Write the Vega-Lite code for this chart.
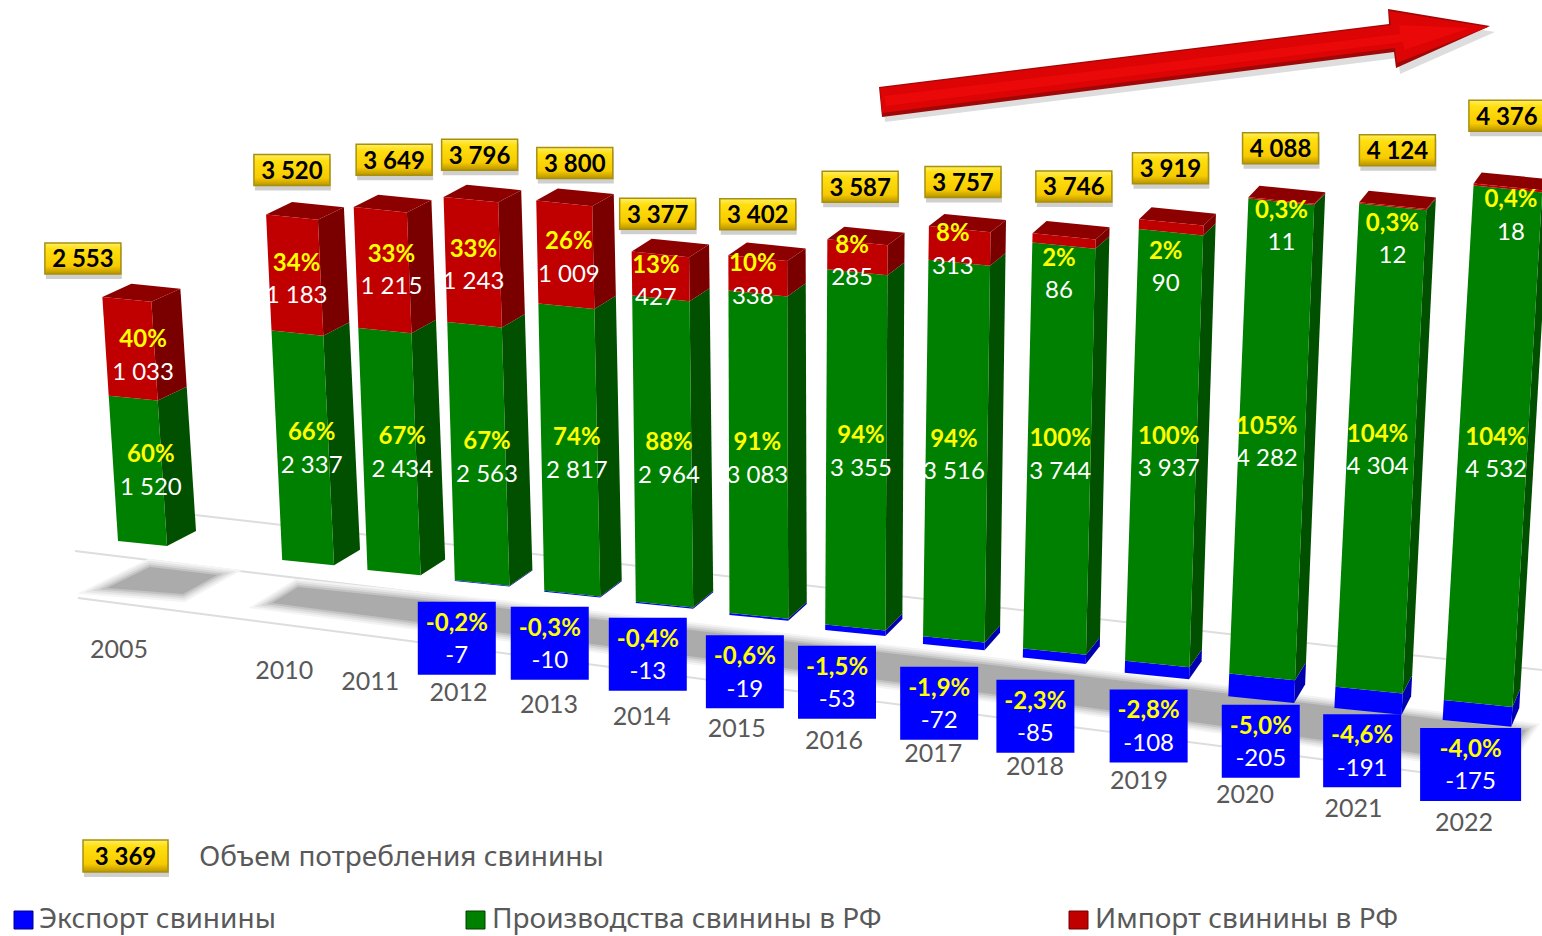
{"$schema":"https://vega.github.io/schema/vega-lite/v6.json","width":1542,"height":936,"padding":0,"autosize":"none","background":"white","view":{"stroke":null},"config":{"text":{"font":"Lato"}},
"datasets":{"bars":[
{"year":2005,"series":"Производство","value":1520,"share":"60%"},{"year":2005,"series":"Импорт","value":1033,"share":"40%"},
{"year":2010,"series":"Производство","value":2337,"share":"66%"},{"year":2010,"series":"Импорт","value":1183,"share":"34%"},
{"year":2011,"series":"Производство","value":2434,"share":"67%"},{"year":2011,"series":"Импорт","value":1215,"share":"33%"},
{"year":2012,"series":"Экспорт","value":-7,"share":"-0,2%"},{"year":2012,"series":"Производство","value":2563,"share":"67%"},{"year":2012,"series":"Импорт","value":1243,"share":"33%"},
{"year":2013,"series":"Экспорт","value":-10,"share":"-0,3%"},{"year":2013,"series":"Производство","value":2817,"share":"74%"},{"year":2013,"series":"Импорт","value":1009,"share":"26%"},
{"year":2014,"series":"Экспорт","value":-13,"share":"-0,4%"},{"year":2014,"series":"Производство","value":2964,"share":"88%"},{"year":2014,"series":"Импорт","value":427,"share":"13%"},
{"year":2015,"series":"Экспорт","value":-19,"share":"-0,6%"},{"year":2015,"series":"Производство","value":3083,"share":"91%"},{"year":2015,"series":"Импорт","value":338,"share":"10%"},
{"year":2016,"series":"Экспорт","value":-53,"share":"-1,5%"},{"year":2016,"series":"Производство","value":3355,"share":"94%"},{"year":2016,"series":"Импорт","value":285,"share":"8%"},
{"year":2017,"series":"Экспорт","value":-72,"share":"-1,9%"},{"year":2017,"series":"Производство","value":3516,"share":"94%"},{"year":2017,"series":"Импорт","value":313,"share":"8%"},
{"year":2018,"series":"Экспорт","value":-85,"share":"-2,3%"},{"year":2018,"series":"Производство","value":3744,"share":"100%"},{"year":2018,"series":"Импорт","value":86,"share":"2%"},
{"year":2019,"series":"Экспорт","value":-108,"share":"-2,8%"},{"year":2019,"series":"Производство","value":3937,"share":"100%"},{"year":2019,"series":"Импорт","value":90,"share":"2%"},
{"year":2020,"series":"Экспорт","value":-205,"share":"-5,0%"},{"year":2020,"series":"Производство","value":4282,"share":"105%"},{"year":2020,"series":"Импорт","value":11,"share":"0,3%"},
{"year":2021,"series":"Экспорт","value":-191,"share":"-4,6%"},{"year":2021,"series":"Производство","value":4304,"share":"104%"},{"year":2021,"series":"Импорт","value":12,"share":"0,3%"},
{"year":2022,"series":"Экспорт","value":-175,"share":"-4,0%"},{"year":2022,"series":"Производство","value":4532,"share":"104%"},{"year":2022,"series":"Импорт","value":18,"share":"0,4%"}],
"consumption":[{"year":2005,"value":2553},{"year":2010,"value":3520},{"year":2011,"value":3649},{"year":2012,"value":3796},{"year":2013,"value":3800},{"year":2014,"value":3377},{"year":2015,"value":3402},{"year":2016,"value":3587},{"year":2017,"value":3757},{"year":2018,"value":3746},{"year":2019,"value":3919},{"year":2020,"value":4088},{"year":2021,"value":4124},{"year":2022,"value":4376}]},
"layer":[
{"data":{"values":[{"k":0},{"k":1},{"k":2}]},"transform":[
{"calculate":"[195,75,78][datum.k]","as":"x1"},{"calculate":"[1542,1530,1520][datum.k]","as":"x2"},{"calculate":"[515,551,598][datum.k]","as":"y1"},{"calculate":"[670,727,785][datum.k]","as":"y2"}],
"mark":{"type":"rule","color":"#DDDDDD","strokeWidth":2},
"encoding":{"x":{"field":"x1","type":"quantitative","scale":{"domain":[0,1542],"range":[0,1542]},"axis":null},"y":{"field":"y1","type":"quantitative","scale":{"domain":[0,936],"range":[0,936]},"axis":null},"x2":{"field":"x2"},"y2":{"field":"y2"}}},
{"data":{"values":[{"k":0},{"k":1}]},"transform":[
{"calculate":"datum.k==0?[[107,588],[150,567],[217,575],[183,594],[107,588]]:[[298,587],[500,608],[1000,666],[1526,730],[1502,765],[1000,695],[433,624],[272,603],[298,587]]","as":"ring"},
{"calculate":"{type:'Feature',properties:{},geometry:{type:'Polygon',coordinates:[datum.ring]}}","as":"geo"}],
"layer":[
{"mark":{"type":"geoshape","fill":"#F4F4F4","stroke":"#F4F4F4","strokeWidth":16},"projection":{"type":"identity","scale":1,"translate":[0,0]},"encoding":{"shape":{"field":"geo","type":"geojson"}}},
{"mark":{"type":"geoshape","fill":"#E6E6E6","stroke":"#E6E6E6","strokeWidth":12},"projection":{"type":"identity","scale":1,"translate":[0,0]},"encoding":{"shape":{"field":"geo","type":"geojson"}}},
{"mark":{"type":"geoshape","fill":"#D6D6D6","stroke":"#D6D6D6","strokeWidth":8},"projection":{"type":"identity","scale":1,"translate":[0,0]},"encoding":{"shape":{"field":"geo","type":"geojson"}}},
{"mark":{"type":"geoshape","fill":"#C2C2C2","stroke":"#C2C2C2","strokeWidth":4},"projection":{"type":"identity","scale":1,"translate":[0,0]},"encoding":{"shape":{"field":"geo","type":"geojson"}}},
{"mark":{"type":"geoshape","fill":"#ABABAB","stroke":null},"projection":{"type":"identity","scale":1,"translate":[0,0]},"encoding":{"shape":{"field":"geo","type":"geojson"}}}]},
{"data":{"name":"bars"},"transform":[
{"calculate":"datum.year<2010?0:datum.year-2008","as":"i"},
{"calculate":"118+80*datum.i+1.05*datum.i*datum.i","as":"bx"},
{"calculate":"541+9.19*datum.i+0.155*datum.i*datum.i","as":"by"},
{"calculate":"0.0956+0.00128*datum.i","as":"s"},
{"calculate":"-0.064+0.0087*datum.i","as":"L"},
{"calculate":"49+1.4*datum.i","as":"W"},
{"stack":"value","groupby":["year"],"sort":[{"field":"series","order":"descending"}],"as":["v0","v1"]},
{"calculate":"min(datum.v0,datum.v1)","as":"lo"},{"calculate":"max(datum.v0,datum.v1)","as":"hi"},
{"calculate":"datum.bx+datum.L*datum.s*datum.lo","as":"xlo"},{"calculate":"datum.by-datum.s*datum.lo","as":"ylo"},
{"calculate":"datum.bx+datum.L*datum.s*datum.hi","as":"xhi"},{"calculate":"datum.by-datum.s*datum.hi","as":"yhi"},
{"calculate":"0.1*datum.W","as":"t"},{"calculate":"29-1.5*datum.i","as":"dx"},
{"calculate":"-(15+0.25*datum.i)+(3+0.25*datum.i)*datum.lo/4000","as":"dyl"},
{"calculate":"-(15+0.25*datum.i)+(3+0.25*datum.i)*datum.hi/4000","as":"dyh"},
{"calculate":"['side','top','front']","as":"face"},{"flatten":["face"]},
{"filter":"datum.face!='top'||datum.series=='Импорт'"},
{"calculate":"datum.face=='top'?[datum.xhi,datum.yhi]:datum.face=='side'?[datum.xlo+datum.W,datum.ylo+datum.t]:[datum.xlo,datum.ylo]","as":"a"},
{"calculate":"datum.face=='top'?[datum.xhi+datum.W,datum.yhi+datum.t]:datum.face=='side'?[datum.xlo+datum.W+datum.dx,datum.ylo+datum.t+datum.dyl]:[datum.xlo+datum.W,datum.ylo+datum.t]","as":"b"},
{"calculate":"datum.face=='front'?[datum.xhi+datum.W,datum.yhi+datum.t]:[datum.xhi+datum.W+datum.dx,datum.yhi+datum.t+datum.dyh]","as":"c"},
{"calculate":"datum.face=='top'?[datum.xhi+datum.dx,datum.yhi+datum.dyh]:datum.face=='side'?[datum.xhi+datum.W,datum.yhi+datum.t]:[datum.xhi,datum.yhi]","as":"d"},
{"calculate":"{type:'Feature',properties:{},geometry:{type:'Polygon',coordinates:[[datum.a,datum.b,datum.c,datum.d,datum.a]]}}","as":"geo"},
{"calculate":"datum.series+'-'+datum.face","as":"key"}],
"mark":{"type":"geoshape","stroke":null},"projection":{"type":"identity","scale":1,"translate":[0,0]},
"encoding":{"shape":{"field":"geo","type":"geojson"},"color":{"field":"key","type":"nominal","legend":null,"scale":{"domain":["Импорт-front","Импорт-side","Импорт-top","Производство-front","Производство-side","Экспорт-front","Экспорт-side"],"range":["#C00000","#7A0000","#8C0000","#008000","#005000","#0000FF","#0000B0"]}}}},
{"data":{"name":"bars"},"transform":[
{"calculate":"datum.year<2010?0:datum.year-2008","as":"i"},
{"calculate":"118+80*datum.i+1.03*datum.i*datum.i","as":"bx"},
{"calculate":"541+9.19*datum.i+0.155*datum.i*datum.i","as":"by"},
{"calculate":"0.0956+0.00128*datum.i","as":"s"},
{"calculate":"-0.064+0.0087*datum.i","as":"L"},
{"calculate":"49+1.4*datum.i","as":"W"},
{"stack":"value","groupby":["year"],"sort":[{"field":"series","order":"descending"}],"as":["v0","v1"]},
{"calculate":"(datum.v0+datum.v1)/2","as":"vm"},
{"calculate":"datum.series=='Импорт'?[13,0,2,9,1,4,-4,-4,-4,-5,-3,-3,3,3,7][datum.i]:datum.series=='Производство'?[13,0,9,13,9,8,7,0,6,-1,3,7,-2,0,7][datum.i]:[0,0,0,0,-25,-22,-16,-13,-17,-13,-17,-6,2,-3,-3][datum.i]","as":"ndx"},
{"calculate":"datum.series=='Импорт'?[6,0,3,-1,2,2,4,3,3,3,32,39,24,32,27][datum.i]:datum.series=='Производство'?[-1,0,0,0,3,3,6,3,1,3,5,3,2,1,6][datum.i]:[0,0,0,0,55,49,49,55,52,60,60,56,53,50,51][datum.i]","as":"ndy"},
{"calculate":"datum.bx+datum.W/2+datum.L*datum.s*datum.vm+datum.ndx","as":"cx"},
{"calculate":"datum.by+0.05*datum.W-datum.s*datum.vm+datum.ndy","as":"cy"},
{"calculate":"datum.cy-14.5","as":"cyA"},{"calculate":"datum.cy+18","as":"cyB"},
{"calculate":"datum.year==2022?50.5:39","as":"hw"},
{"calculate":"datum.cx-datum.hw","as":"bx1"},{"calculate":"datum.cx+datum.hw","as":"bx2"},
{"calculate":"datum.cy-36.5","as":"by1"},{"calculate":"datum.cy+36.5","as":"by2"},
{"calculate":"(datum.value<0?'-':'')+replace(format(abs(datum.value),',d'),',',' ')","as":"label"}],
"layer":[
{"transform":[{"filter":"datum.series=='Экспорт'"}],"mark":{"type":"rect","color":"#0000FF"},"encoding":{"x":{"field":"bx1","type":"quantitative","scale":{"domain":[0,1542],"range":[0,1542]},"axis":null},"x2":{"field":"bx2"},"y":{"field":"by1","type":"quantitative","scale":{"domain":[0,936],"range":[0,936]},"axis":null},"y2":{"field":"by2"}}},
{"mark":{"type":"text","font":"Lato","fontWeight":"bold","fontSize":24,"color":"#FFFF00","align":"center","baseline":"middle"},"encoding":{"x":{"field":"cx","type":"quantitative","scale":{"domain":[0,1542],"range":[0,1542]},"axis":null},"y":{"field":"cyA","type":"quantitative","scale":{"domain":[0,936],"range":[0,936]},"axis":null},"text":{"field":"share"}}},
{"mark":{"type":"text","font":"Lato","fontSize":24,"color":"#FFFFFF","align":"center","baseline":"middle"},"encoding":{"x":{"field":"cx","type":"quantitative","scale":{"domain":[0,1542],"range":[0,1542]},"axis":null},"y":{"field":"cyB","type":"quantitative","scale":{"domain":[0,936],"range":[0,936]},"axis":null},"text":{"field":"label"}}}]},
{"data":{"name":"consumption"},"transform":[
{"calculate":"datum.year<2010?0:datum.year-2008","as":"i"},
{"calculate":"118+80*datum.i+1.03*datum.i*datum.i","as":"bx"},
{"calculate":"541+9.19*datum.i+0.155*datum.i*datum.i","as":"by"},
{"calculate":"0.0956+0.00128*datum.i","as":"s"},
{"calculate":"-0.064+0.0087*datum.i","as":"L"},
{"calculate":"49+1.4*datum.i","as":"W"},
{"calculate":"datum.bx+datum.W/2+datum.L*datum.s*datum.value+[-44,0,0,14,9,11,-2,1,4,5,12,2,3,9,4][datum.i]","as":"cx"},
{"calculate":"datum.by+0.05*datum.W-datum.s*datum.value+[-41,0,-47,-50,-46,-43,-42,-46,-61,-55,-59,-66,-75,-77,-91][datum.i]","as":"cy"},
{"calculate":"datum.cy+2","as":"ty"},
{"calculate":"datum.cx-38","as":"x1"},{"calculate":"datum.cx+38","as":"x2"},{"calculate":"datum.cy-15.5","as":"y1"},{"calculate":"datum.cy+15.5","as":"y2"},
{"calculate":"datum.x1+1","as":"sx1"},{"calculate":"datum.x2+1","as":"sx2"},{"calculate":"datum.y1+4","as":"sy1"},{"calculate":"datum.y2+5","as":"sy2"},
{"calculate":"replace(format(datum.value,',d'),',',' ')","as":"label"},
{"calculate":"119+80.4*datum.i+1.12*datum.i*datum.i","as":"lx"},
{"calculate":"650+10.19*datum.i+0.155*datum.i*datum.i","as":"ly"}],
"layer":[
{"mark":{"type":"rect","color":"#888888","opacity":0.4},"encoding":{"x":{"field":"sx1","type":"quantitative","scale":{"domain":[0,1542],"range":[0,1542]},"axis":null},"x2":{"field":"sx2"},"y":{"field":"sy1","type":"quantitative","scale":{"domain":[0,936],"range":[0,936]},"axis":null},"y2":{"field":"sy2"}}},
{"mark":{"type":"rect","stroke":"#A8900F","strokeWidth":1.5,"fill":{"x1":0,"y1":0,"x2":0,"y2":1,"gradient":"linear","stops":[{"offset":0,"color":"#FFEE66"},{"offset":0.2,"color":"#FFDF10"},{"offset":0.75,"color":"#F7CB00"},{"offset":1,"color":"#B89400"}]}},"encoding":{"x":{"field":"x1","type":"quantitative","scale":{"domain":[0,1542],"range":[0,1542]},"axis":null},"x2":{"field":"x2"},"y":{"field":"y1","type":"quantitative","scale":{"domain":[0,936],"range":[0,936]},"axis":null},"y2":{"field":"y2"}}},
{"mark":{"type":"text","font":"Lato","fontWeight":"bold","fontSize":24,"color":"#000000","align":"center","baseline":"middle"},"encoding":{"x":{"field":"cx","type":"quantitative","scale":{"domain":[0,1542],"range":[0,1542]},"axis":null},"y":{"field":"ty","type":"quantitative","scale":{"domain":[0,936],"range":[0,936]},"axis":null},"text":{"field":"label"}}},
{"mark":{"type":"text","font":"Lato","fontSize":25,"color":"#595959","align":"center","baseline":"middle"},"encoding":{"x":{"field":"lx","type":"quantitative","scale":{"domain":[0,1542],"range":[0,1542]},"axis":null},"y":{"field":"ly","type":"quantitative","scale":{"domain":[0,936],"range":[0,936]},"axis":null},"text":{"field":"year","type":"nominal"}}}]},
{"data":{"values":[{"part":"shadow"},{"part":"edge"},{"part":"body"},{"part":"light"}]},"transform":[
{"calculate":"datum.part=='shadow'?[[882,93],[1392,30],[1391,15],[1495,32],[1400,74],[1398,58],[885,122],[882,93]]:datum.part=='edge'?[[879,87],[1389,24],[1388,9],[1490,26],[1396,68],[1394,52],[882,117],[879,87]]:datum.part=='body'?[[880,88],[1391,25],[1389,11],[1488,27],[1397,63],[1395,48],[882,113],[880,88]]:[[884,96],[1400,34],[1399,25],[1470,28],[1404,50],[1403,42],[886,106],[884,96]]","as":"ring"},
{"calculate":"{type:'Feature',properties:{},geometry:{type:'Polygon',coordinates:[datum.ring]}}","as":"geo"}],
"layer":[
{"transform":[{"filter":"datum.part=='shadow'"}],"mark":{"type":"geoshape","fill":"#DDDDDD","stroke":null},"projection":{"type":"identity","scale":1,"translate":[0,0]},"encoding":{"shape":{"field":"geo","type":"geojson"}}},
{"transform":[{"filter":"datum.part=='edge'"}],"mark":{"type":"geoshape","fill":"#A00808","stroke":null},"projection":{"type":"identity","scale":1,"translate":[0,0]},"encoding":{"shape":{"field":"geo","type":"geojson"}}},
{"transform":[{"filter":"datum.part=='body'"}],"mark":{"type":"geoshape","fill":"#DC0404","stroke":null},"projection":{"type":"identity","scale":1,"translate":[0,0]},"encoding":{"shape":{"field":"geo","type":"geojson"}}},
{"transform":[{"filter":"datum.part=='light'"}],"mark":{"type":"geoshape","fill":"#EA0808","stroke":null},"projection":{"type":"identity","scale":1,"translate":[0,0]},"encoding":{"shape":{"field":"geo","type":"geojson"}}}]},
{"data":{"values":[{"item":"Экспорт свинины","kind":"Экспорт"},{"item":"Производства свинины в РФ","kind":"Производство"},{"item":"Импорт свинины в РФ","kind":"Импорт"},{"item":"Объем потребления свинины","kind":"Потребление"}]},"transform":[
{"calculate":"indexof(['Экспорт','Производство','Импорт','Потребление'],datum.kind)","as":"n"},
{"calculate":"[14,466,1069,83][datum.n]","as":"sx1"},{"calculate":"[33,485,1088,168][datum.n]","as":"sx2"},
{"calculate":"[911,911,911,840][datum.n]","as":"sy1"},{"calculate":"[929,929,929,872][datum.n]","as":"sy2"},
{"calculate":"[39,492,1095,199][datum.n]","as":"tx"},{"calculate":"[920,920,920,858][datum.n]","as":"ty"},
{"calculate":"(datum.sx1+datum.sx2)/2","as":"kx"},{"calculate":"(datum.sy1+datum.sy2)/2+2","as":"ky"},{"calculate":"'3 369'","as":"keyLabel"},
{"calculate":"datum.sx1+1","as":"kx1"},{"calculate":"datum.sx2+1","as":"kx2"},{"calculate":"datum.sy1+4","as":"ky1"},{"calculate":"datum.sy2+5","as":"ky2"}],
"layer":[
{"transform":[{"filter":"datum.kind!='Потребление'"}],"mark":{"type":"rect","strokeWidth":1},"encoding":{"x":{"field":"sx1","type":"quantitative","scale":{"domain":[0,1542],"range":[0,1542]},"axis":null},"x2":{"field":"sx2"},"y":{"field":"sy1","type":"quantitative","scale":{"domain":[0,936],"range":[0,936]},"axis":null},"y2":{"field":"sy2"},"fill":{"field":"kind","type":"nominal","legend":null,"scale":{"domain":["Экспорт","Производство","Импорт"],"range":["#0000FF","#008000","#C00000"]}},"stroke":{"field":"kind","type":"nominal","legend":null,"scale":{"domain":["Экспорт","Производство","Импорт"],"range":["#000090","#004000","#700000"]}}}},
{"transform":[{"filter":"datum.kind=='Потребление'"}],"mark":{"type":"rect","color":"#888888","opacity":0.4},"encoding":{"x":{"field":"kx1","type":"quantitative","scale":{"domain":[0,1542],"range":[0,1542]},"axis":null},"x2":{"field":"kx2"},"y":{"field":"ky1","type":"quantitative","scale":{"domain":[0,936],"range":[0,936]},"axis":null},"y2":{"field":"ky2"}}},
{"transform":[{"filter":"datum.kind=='Потребление'"}],"mark":{"type":"rect","stroke":"#A8900F","strokeWidth":1.5,"fill":{"x1":0,"y1":0,"x2":0,"y2":1,"gradient":"linear","stops":[{"offset":0,"color":"#FFEE66"},{"offset":0.2,"color":"#FFDF10"},{"offset":0.75,"color":"#F7CB00"},{"offset":1,"color":"#B89400"}]}},"encoding":{"x":{"field":"sx1","type":"quantitative","scale":{"domain":[0,1542],"range":[0,1542]},"axis":null},"x2":{"field":"sx2"},"y":{"field":"sy1","type":"quantitative","scale":{"domain":[0,936],"range":[0,936]},"axis":null},"y2":{"field":"sy2"}}},
{"transform":[{"filter":"datum.kind=='Потребление'"}],"mark":{"type":"text","font":"Lato","fontWeight":"bold","fontSize":24,"color":"#000000","align":"center","baseline":"middle"},"encoding":{"x":{"field":"kx","type":"quantitative","scale":{"domain":[0,1542],"range":[0,1542]},"axis":null},"y":{"field":"ky","type":"quantitative","scale":{"domain":[0,936],"range":[0,936]},"axis":null},"text":{"field":"keyLabel"}}},
{"mark":{"type":"text","font":"Noto Sans","fontSize":28,"color":"#595959","align":"left","baseline":"middle"},"encoding":{"x":{"field":"tx","type":"quantitative","scale":{"domain":[0,1542],"range":[0,1542]},"axis":null},"y":{"field":"ty","type":"quantitative","scale":{"domain":[0,936],"range":[0,936]},"axis":null},"text":{"field":"item"}}}]}
]}
